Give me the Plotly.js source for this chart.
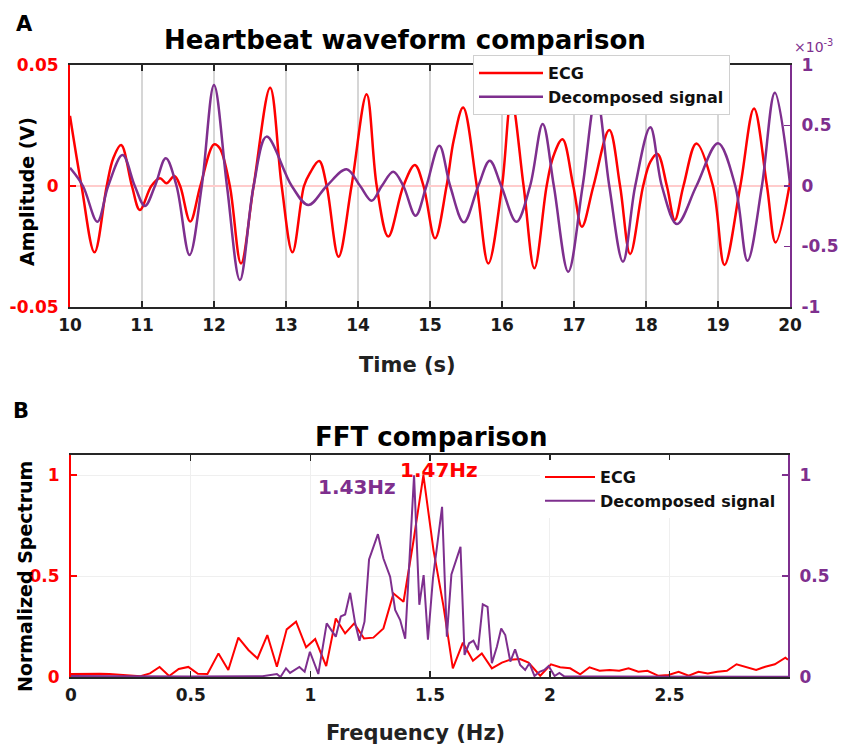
<!DOCTYPE html>
<html>
<head>
<meta charset="utf-8">
<script src="https://cdn.plot.ly/plotly-3.0.1.min.js"></script>
<style>html,body{margin:0;padding:0;background:#fff;}#chart{width:845px;height:745px;}</style>
</head>
<body>
<div id="chart"></div>
<script>
// ---------- Panel A: heartbeat waveform (time in s) ----------
const ecgTime = [10.00,10.16,10.34,10.51,10.60,10.71,10.86,10.97,11.13,11.25,11.34,11.45,11.53,11.67,11.81,12.00,12.08,12.22,12.375,12.55,12.78,12.94,13.09,13.25,13.33,13.46,13.565,13.73,13.91,14.12,14.26,14.42,14.63,14.79,14.91,15.07,15.23,15.33,15.46,15.65,15.81,16.00,16.13,16.30,16.45,16.62,16.71,16.84,16.99,17.11,17.27,17.49,17.64,17.78,17.96,18.06,18.16,18.29,18.40,18.52,18.70,18.93,19.09,19.31,19.50,19.68,19.80,20.00];
const ecgAmp = [0.029,0.0,-0.0274,0.0,0.0114,0.0169,0.0,-0.0099,0.0,0.0032,0.0011,0.0041,0.0,-0.0147,0.0,0.0172,0.0156,0.0,-0.032,0.0,0.0406,0.0,-0.0274,0.0,0.0052,0.0103,0.0,-0.0292,0.0,0.0379,0.0,-0.0209,0.0,0.0087,0.0,-0.0216,0.0,0.019,0.0324,0.0,-0.032,0.0,0.036,0.0,-0.034,0.0,0.012,0.0193,0.0,-0.0168,0.0,0.0231,0.0,-0.0281,0.0,0.010,0.0132,0.0,-0.014,0.0,0.0176,0.0,-0.0326,0.0,0.032,0.0,-0.0233,0.0015];

// decomposed signal, in units of 1e-3
const decTime = [10.00,10.18,10.38,10.53,10.73,10.90,11.04,11.18,11.33,11.48,11.66,11.83,12.00,12.18,12.36,12.55,12.73,13.08,13.31,13.565,13.84,14.03,14.19,14.33,14.49,14.63,14.80,14.95,15.13,15.28,15.47,15.67,15.83,15.99,16.20,16.39,16.565,16.72,16.92,17.12,17.31,17.49,17.68,17.85,18.06,18.22,18.43,18.70,19.00,19.24,19.41,19.61,19.79,20.00];
const decAmp = [0.15,0.0,-0.295,0.0,0.256,0.0,-0.165,0.0,0.229,0.0,-0.57,0.0,0.835,0.0,-0.777,0.0,0.408,0.0,-0.157,0.0,0.138,0.0,-0.121,0.0,0.118,0.0,-0.245,0.0,0.333,0.0,-0.30,0.0,0.209,0.0,-0.295,0.0,0.512,0.0,-0.708,0.0,0.75,0.0,-0.625,0.0,0.485,0.0,-0.314,0.0,0.353,0.0,-0.617,0.0,0.771,0.02];

// ---------- Panel B: FFT (frequency in Hz) ----------
const ecgFreq = [0,0.04,0.08,0.12,0.16,0.20,0.24,0.29,0.33,0.37,0.41,0.45,0.49,0.53,0.57,0.616,0.657,0.699,0.741,0.779,0.82,0.86,0.901,0.94,0.982,1.02,1.066,1.106,1.145,1.183,1.224,1.263,1.305,1.347,1.389,1.43,1.472,1.514,1.556,1.595,1.637,1.679,1.716,1.758,1.80,1.835,1.876,1.911,1.96,2.005,2.043,2.085,2.127,2.166,2.208,2.25,2.29,2.329,2.37,2.408,2.454,2.496,2.538,2.58,2.621,2.66,2.70,2.74,2.78,2.82,2.862,2.90,2.94,2.984,2.995];
const ecgSpec = [0.015,0.016,0.015,0.016,0.015,0.012,0.008,0.004,0.018,0.05,0.005,0.04,0.05,0.016,0.015,0.117,0.035,0.195,0.134,0.092,0.208,0.051,0.236,0.274,0.147,0.188,0.054,0.29,0.216,0.266,0.191,0.195,0.241,0.414,0.373,0.67,1.0,0.63,0.35,0.043,0.17,0.081,0.117,0.043,0.071,0.086,0.089,0.071,0.006,0.063,0.048,0.043,0.013,0.048,0.031,0.035,0.031,0.043,0.026,0.031,0.006,0.01,0.026,0.006,0.026,0.018,0.026,0.031,0.063,0.048,0.035,0.051,0.063,0.096,0.085];

const decFreq = [0,0.5,0.8,0.84,0.86,0.875,0.898,0.915,0.935,0.954,0.976,0.998,1.033,1.068,1.106,1.127,1.145,1.166,1.187,1.205,1.226,1.245,1.282,1.305,1.333,1.354,1.375,1.396,1.433,1.455,1.473,1.491,1.512,1.55,1.57,1.589,1.627,1.644,1.663,1.681,1.70,1.72,1.74,1.758,1.779,1.797,1.814,1.835,1.855,1.876,1.897,1.915,1.936,1.957,1.977,1.995,2.02,2.04,2.06,2.2,2.995];
const decSpec = [0.005,0.002,0.004,0.01,0.015,0.0,0.043,0.02,0.035,0.05,0.026,0.125,0.015,0.266,0.2,0.3,0.31,0.417,0.266,0.18,0.274,0.583,0.708,0.587,0.497,0.332,0.282,0.19,1.0,0.358,0.505,0.185,0.49,0.843,0.2,0.508,0.645,0.109,0.167,0.18,0.134,0.36,0.348,0.068,0.15,0.24,0.208,0.076,0.137,0.06,0.035,0.068,0.005,0.026,0.035,0.054,0.005,0.02,0.003,0.002,0.001];

// tick labels
const timeTicks = [10,11,12,13,14,15,16,17,18,19,20];
const ampTicks = [-0.05,0,0.05];
const ampTickText = ['-0.05','0','0.05'];
const decTicks = [-1,-0.5,0,0.5,1];
const decTickText = ['-1','-0.5','0','0.5','1'];
const freqTicks = [0,0.5,1,1.5,2,2.5];
const freqTickText = ['0','0.5','1','1.5','2','2.5'];
const specTicks = [0,0.5,1];
const specTickText = ['0','0.5','1'];

const RED = '#ff0000';
const PURPLE = '#7E2F8E';
const FONT = 'DejaVu Sans';
const W = 845, H = 745;
const px = v => v / W;
const py = v => 1 - v / H;

const traces = [
  {x: ecgTime, y: ecgAmp, xaxis: 'x', yaxis: 'y', type: 'scatter', mode: 'lines', name: 'ECG',
   line: {color: RED, width: 2.5, shape: 'spline', smoothing: 1}, legend: 'legend'},
  {x: decTime, y: decAmp, xaxis: 'x', yaxis: 'y2', type: 'scatter', mode: 'lines', name: 'Decomposed signal',
   line: {color: PURPLE, width: 2.5, shape: 'spline', smoothing: 1}, legend: 'legend'},
  {x: ecgFreq, y: ecgSpec, xaxis: 'x2', yaxis: 'y3', type: 'scatter', mode: 'lines', name: 'ECG',
   line: {color: RED, width: 2}, legend: 'legend2'},
  {x: decFreq, y: decSpec, xaxis: 'x2', yaxis: 'y4', type: 'scatter', mode: 'lines', name: 'Decomposed signal',
   line: {color: PURPLE, width: 2}, legend: 'legend2'}
];

const tf = (c) => ({family: FONT, size: 17, color: c, weight: 'bold'});

function label(text, x, y, size, color, extra) {
  return Object.assign({text: text, x: px(x), y: py(y), xref: 'paper', yref: 'paper', showarrow: false,
    xanchor: 'center', yanchor: 'middle',
    font: {family: FONT, size: size, color: color, weight: 'bold'}}, extra || {});
}

const layout = {
  width: W, height: H,
  margin: {l: 0, r: 0, t: 0, b: 0},
  paper_bgcolor: '#ffffff', plot_bgcolor: '#ffffff',
  font: {family: FONT},
  xaxis: {domain: [px(70), px(790)], anchor: 'y', range: [10, 20], tickvals: timeTicks,
    ticks: 'inside', ticklen: 6, tickwidth: 1.5, tickcolor: '#262626', showline: true, mirror: 'ticks',
    linecolor: '#262626', linewidth: 2, showgrid: true, gridcolor: '#d6d6d6', gridwidth: 1.5,
    zeroline: false, tickfont: tf('#1a1a1a'), ticklabelstandoff: 2},
  yaxis: {domain: [py(307), py(65)], anchor: 'x', range: [-0.05, 0.05], tickvals: ampTicks, ticktext: ampTickText,
    ticks: 'inside', ticklen: 6, tickwidth: 1.5, tickcolor: RED, showline: true, linecolor: RED, linewidth: 2,
    showgrid: false, zeroline: true, zerolinecolor: '#ffcccc', zerolinewidth: 1.5, tickfont: tf(RED),
    ticklabelstandoff: 6},
  yaxis2: {overlaying: 'y', side: 'right', anchor: 'x', range: [-1, 1], tickvals: decTicks, ticktext: decTickText,
    ticks: 'inside', ticklen: 6, tickwidth: 1.5, tickcolor: PURPLE, showline: true, linecolor: PURPLE, linewidth: 2,
    showgrid: false, zeroline: false, tickfont: tf(PURPLE), ticklabelstandoff: 6},
  xaxis2: {domain: [px(71), px(788)], anchor: 'y3', range: [0, 2.995], tickvals: freqTicks, ticktext: freqTickText,
    ticks: 'inside', ticklen: 6, tickwidth: 1.5, tickcolor: '#262626', showline: true, mirror: 'ticks',
    linecolor: '#262626', linewidth: 2, showgrid: true, gridcolor: '#efefef', gridwidth: 1,
    zeroline: false, tickfont: tf('#1a1a1a'), ticklabelstandoff: 2},
  yaxis3: {domain: [py(677), py(455)], anchor: 'x2', range: [0, 1.1], tickvals: specTicks, ticktext: specTickText,
    ticks: 'inside', ticklen: 6, tickwidth: 1.5, tickcolor: RED, showline: true, linecolor: RED, linewidth: 2,
    showgrid: true, gridcolor: '#efefef', gridwidth: 1, zeroline: false, tickfont: tf(RED), ticklabelstandoff: 6},
  yaxis4: {overlaying: 'y3', side: 'right', anchor: 'x2', range: [0, 1.1], tickvals: specTicks, ticktext: specTickText,
    ticks: 'inside', ticklen: 6, tickwidth: 1.5, tickcolor: PURPLE, showline: true, linecolor: PURPLE, linewidth: 2,
    showgrid: false, zeroline: false, tickfont: tf(PURPLE), ticklabelstandoff: 6},
  legend: {x: px(473), y: py(55), xanchor: 'left', yanchor: 'top', bgcolor: '#ffffff',
    bordercolor: '#d0d0d0', borderwidth: 1, font: {family: FONT, size: 16, color: '#111', weight: 'bold'},
    tracegroupgap: 0, itemwidth: 64},
  legend2: {x: px(540), y: py(460), xanchor: 'left', yanchor: 'top', bgcolor: '#ffffff',
    borderwidth: 0, font: {family: FONT, size: 16, color: '#111', weight: 'bold'}, tracegroupgap: 0, itemwidth: 50},
  showlegend: true,
  annotations: [
    label('Heartbeat waveform comparison', 405, 40, 26, '#000'),
    label('FFT comparison', 431, 437, 26, '#000'),
    label('Time (s)', 407, 365, 21, '#222'),
    label('Frequency (Hz)', 415, 733, 21, '#222'),
    label('Amplitude (V)', 27, 192, 19, '#000', {textangle: -90}),
    label('Normalized Spectrum', 25, 577, 19, '#000', {textangle: -90}),
    label('A', 24, 24, 21, '#000'),
    label('B', 21, 411, 21, '#000'),
    {text: '×10<sup>-3</sup>', x: px(813), y: py(46), xref: 'paper', yref: 'paper', showarrow: false,
     xanchor: 'center', yanchor: 'middle', font: {family: FONT, size: 14, color: PURPLE}},
    label('1.43Hz', 357, 487, 20, PURPLE),
    label('1.47Hz', 439, 470, 20, RED)
  ]
};

Plotly.newPlot('chart', traces, layout, {displayModeBar: false, staticPlot: true});
</script>
</body>
</html>
